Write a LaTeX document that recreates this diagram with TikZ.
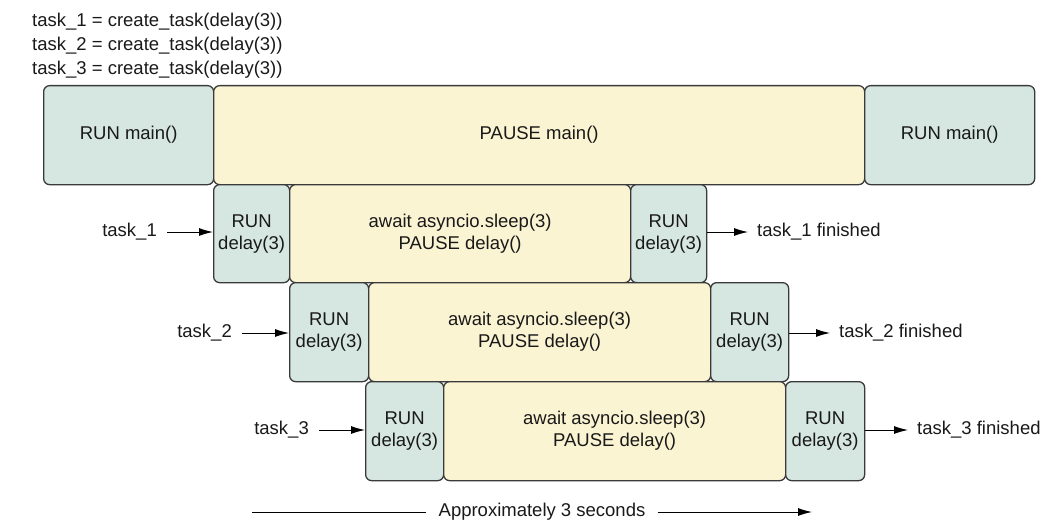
\documentclass[tikz,border=0pt]{standalone}
\usepackage{fontspec}
\setmainfont{Liberation Sans}
\usetikzlibrary{arrows.meta}
\definecolor{runc}{HTML}{D6E6E0}
\definecolor{pausec}{HTML}{FAF4D3}
\definecolor{edgec}{HTML}{3A3A3A}
\begin{document}
\begin{tikzpicture}[x=1pt,y=-1pt,
  every node/.style={font=\fontsize{18.5}{22}\selectfont, text=black!90},
  blk/.style={draw=edgec, line width=1.3pt, rounded corners=6pt, anchor=north west, inner sep=0pt, align=center},
  runbox/.style={blk, fill=runc},
  pausebox/.style={blk, fill=pausec},
  lbl/.style={inner sep=10pt},
  arr/.style={-{Latex[length=14pt,width=8pt]}, line width=1pt, black}]
\useasboundingbox (0,0) rectangle (1064,532);
% header text
\node[anchor=base west, inner sep=0pt] (h1) at (32,27) {task\_1 = create\_task(delay(3))};
\node[anchor=base west, inner sep=0pt] (h2) at (32,51) {task\_2 = create\_task(delay(3))};
\node[anchor=base west, inner sep=0pt] (h3) at (32,75) {task\_3 = create\_task(delay(3))};
% main row
\node[runbox, minimum width=170pt, minimum height=99pt] (m1) at (43,85) {RUN main()};
\node[pausebox, minimum width=651pt, minimum height=99pt] (mp) at (213,85) {PAUSE main()};
\node[runbox, minimum width=170pt, minimum height=99pt] (m2) at (864,85) {RUN main()};
% task 1
\node[runbox, minimum width=76pt, minimum height=98pt] (a1) at (213,184) {RUN\\delay(3)};
\node[pausebox, minimum width=341pt, minimum height=98pt] (ap) at (289,184) {await asyncio.sleep(3)\\PAUSE delay()};
\node[runbox, minimum width=76pt, minimum height=98pt] (a2) at (630,184) {RUN\\delay(3)};
% task 2
\node[runbox, minimum width=79pt, minimum height=99pt] (b1) at (289,282) {RUN\\delay(3)};
\node[pausebox, minimum width=342pt, minimum height=99pt] (bp) at (368,282) {await asyncio.sleep(3)\\PAUSE delay()};
\node[runbox, minimum width=78pt, minimum height=99pt] (b2) at (710,282) {RUN\\delay(3)};
% task 3
\node[runbox, minimum width=78pt, minimum height=99pt] (c1) at (365,381) {RUN\\delay(3)};
\node[pausebox, minimum width=342pt, minimum height=99pt] (cp) at (443,381) {await asyncio.sleep(3)\\PAUSE delay()};
\node[runbox, minimum width=79pt, minimum height=99pt] (c2) at (785,381) {RUN\\delay(3)};
% labels
\node[lbl, anchor=east] (t1) at (167,232) {task\_1};
\node[lbl, anchor=east] (t2) at (242,333) {task\_2};
\node[lbl, anchor=east] (t3) at (319,430) {task\_3};
\node[lbl, anchor=west, inner sep=9pt] (f1) at (748,232) {task\_1 finished};
\node[lbl, anchor=west, inner sep=9pt] (f2) at (830,333) {task\_2 finished};
\node[lbl, anchor=west, inner sep=9pt] (f3) at (908,430) {task\_3 finished};
\draw[arr] (t1.east) -- (a1.west |- t1.east);
\draw[arr] (t2.east) -- (b1.west |- t2.east);
\draw[arr] (t3.east) -- (c1.west |- t3.east);
\draw[arr] (a2.east |- f1.west) -- (f1.west);
\draw[arr] (b2.east |- f2.west) -- (f2.west);
\draw[arr] (c2.east |- f3.west) -- (f3.west);
% time axis
\node[inner sep=12pt] (ax) at (542,512) {Approximately 3 seconds};
\coordinate (axs) at (252,512);
\coordinate (axe) at (812,512);
\draw[line width=1pt] (axs) -- (ax.west);
\draw[arr] (ax.east) -- (axe);
\end{tikzpicture}
\end{document}
